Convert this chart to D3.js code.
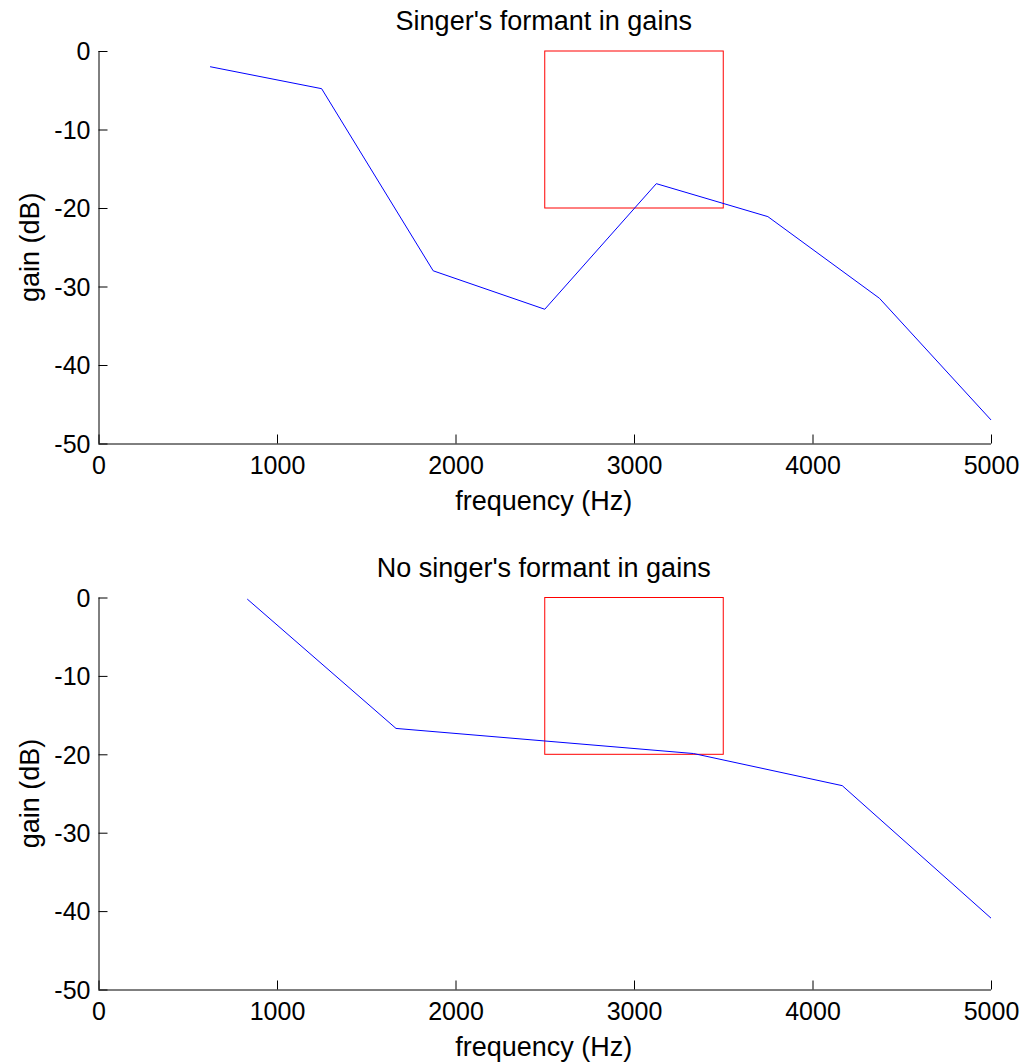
<!DOCTYPE html>
<html><head><meta charset="utf-8">
<script src="https://cdn.jsdelivr.net/npm/d3@7"></script>
<style>body{margin:0;background:#fff}svg{display:block;font-family:"Liberation Sans",Arial,Helvetica,sans-serif}</style>
</head><body>
<script>
const freqTop = [625, 1250, 1875, 2500, 3125, 3750, 4375, 5000];
const gainTop = [-2.0, -4.8, -28.0, -32.9, -16.9, -21.1, -31.5, -47.0];
const freqBottom = [833.3, 1666.7, 2500, 3333.3, 4166.7, 5000];
const gainBottom = [-0.2, -16.7, -18.3, -19.9, -24.0, -40.9];
const formantBox = {x0: 2500, x1: 3500, y0: -20, y1: 0};
const xTicks = [0, 1000, 2000, 3000, 4000, 5000];
const yTicks = [0, -10, -20, -30, -40, -50];
const titles = ["Singer's formant in gains", "No singer's formant in gains"];

const W = 1027, H = 1063;
const svg = d3.select("body").append("svg").attr("width", W).attr("height", H);
const FS = 25, LFS = 27;

function panel(top, bottom, freq, gain, title) {
  const left = 98.5, right = 991;
  const x = d3.scaleLinear().domain([0, 5000]).range([left, right]);
  const y = d3.scaleLinear().domain([-50, 0]).range([bottom, top]);
  const g = svg.append("g");

  g.append("rect")
    .attr("x", x(formantBox.x0)).attr("y", y(formantBox.y1))
    .attr("width", x(formantBox.x1) - x(formantBox.x0))
    .attr("height", y(formantBox.y0) - y(formantBox.y1))
    .attr("fill", "none").attr("stroke", "#ff0000").attr("stroke-width", 1);

  const line = d3.line().x((d, i) => x(freq[i])).y(d => y(d));
  g.append("path").datum(gain).attr("d", line)
    .attr("fill", "none").attr("stroke", "#0000ff").attr("stroke-width", 1);

  const fmt = d => String(d);
  const xa = g.append("g").attr("transform", `translate(0,${bottom})`)
    .call(d3.axisBottom(x).tickValues(xTicks).tickSize(-9).tickPadding(13).tickFormat(fmt));
  const ya = g.append("g").attr("transform", `translate(${left},0)`)
    .call(d3.axisLeft(y).tickValues(yTicks).tickSize(-9).tickPadding(8).tickFormat(fmt));
  [xa, ya].forEach(a => {
    a.select(".domain").attr("stroke", "#000").attr("stroke-width", 1);
    a.selectAll(".tick line").attr("stroke", "#000");
    a.selectAll("text").attr("font-size", FS).attr("fill", "#000")
      .attr("font-family", '"Liberation Sans",Arial,sans-serif');
  });
  xa.selectAll(".tick text").attr("dy", "0.71em");
  ya.selectAll(".tick text").attr("dy", "0.35em");
  xa.select(".domain").attr("d", `M${left},0.5H${right}`);
  ya.select(".domain").attr("d", `M0.5,${bottom}V${top}`);

  g.append("text").attr("x", (left + right) / 2 - 1).attr("y", top - 21)
    .attr("text-anchor", "middle").attr("font-size", LFS).text(title);
  g.append("text").attr("x", (left + right) / 2 - 1).attr("y", bottom + 66)
    .attr("text-anchor", "middle").attr("font-size", LFS).text("frequency (Hz)");
  g.append("text").attr("transform", `translate(39,${(top + bottom) / 2}) rotate(-90)`)
    .attr("text-anchor", "middle").attr("font-size", LFS).text("gain (dB)");
}

panel(51, 443.5, freqTop, gainTop, titles[0]);
panel(597.5, 989.5, freqBottom, gainBottom, titles[1]);
</script>
</body></html>
